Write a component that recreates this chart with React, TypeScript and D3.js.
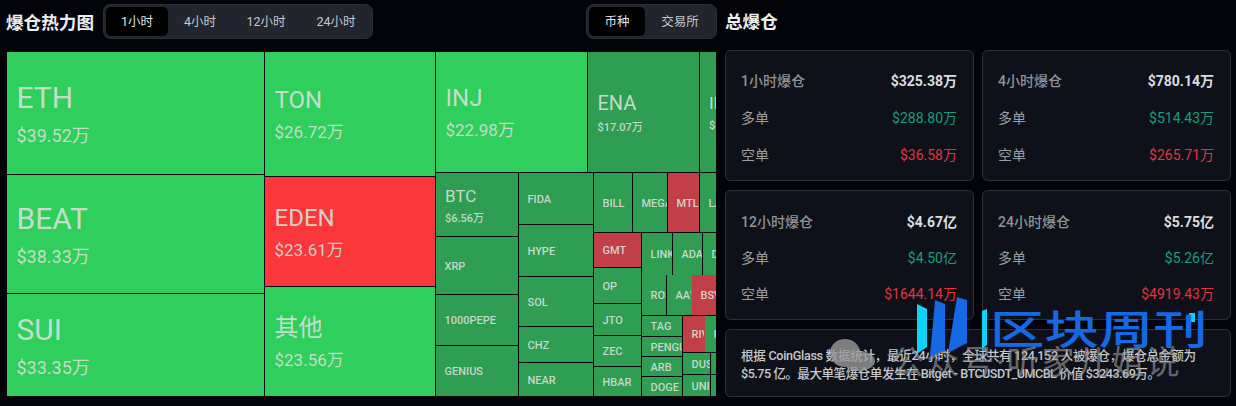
import React from "react";
import * as d3 from "d3";

type Cell = { name: string; value: number; short?: boolean };

// Treemap groups, values in 万 USD (hidden cells estimated from their visible area)
const majorsA: Cell[] = [
  { name: "ETH", value: 39.52 },
  { name: "BEAT", value: 38.33 },
  { name: "SUI", value: 33.35 },
];
const majorsB: Cell[] = [
  { name: "TON", value: 26.72 },
  { name: "EDEN", value: 23.61, short: true },
  { name: "其他", value: 23.56 },
];
const topRow: Cell[] = [
  { name: "INJ", value: 22.98 },
  { name: "ENA", value: 17.07 },
  { name: "IP", value: 13.6 },
];
const stackA: Cell[] = [
  { name: "BTC", value: 6.56 },
  { name: "XRP", value: 6.0 },
  { name: "1000PEPE", value: 5.3 },
  { name: "GENIUS", value: 5.3 },
];
const stackB: Cell[] = [
  { name: "FIDA", value: 4.85 },
  { name: "HYPE", value: 4.8 },
  { name: "SOL", value: 4.7 },
  { name: "CHZ", value: 3.4 },
  { name: "NEAR", value: 3.15 },
];
const rowBill: Cell[] = [
  { name: "BILL", value: 2.93 },
  { name: "MEGA", value: 2.7 },
  { name: "MTL", value: 2.4, short: true },
  { name: "LAB", value: 6.4 },
  { name: "ATOM", value: 0.35 },
];
const stackGmt: Cell[] = [
  { name: "GMT", value: 2.14, short: true },
  { name: "OP", value: 2.17 },
  { name: "JTO", value: 1.96 },
  { name: "ZEC", value: 1.88 },
  { name: "HBAR", value: 1.84 },
];
const rowLink: Cell[] = [
  { name: "LINK", value: 1.59 },
  { name: "ADA", value: 1.54 },
  { name: "DOT", value: 4.46 },
];
const rowRose: Cell[] = [
  { name: "ROSE", value: 1.28 },
  { name: "AAVE", value: 1.28 },
  { name: "BSV", value: 5.02, short: true },
];
const stackTag: Cell[] = [
  { name: "TAG", value: 1.08 },
  { name: "PENGU", value: 1.03 },
  { name: "ARB", value: 1.03 },
  { name: "DOGE", value: 1.03 },
];
const rowRiver: Cell[] = [
  { name: "RIVER", value: 0.99, short: true },
  { name: "FIL", value: 3.96 },
];
const stackDusk: Cell[] = [
  { name: "DUSK", value: 0.79 },
  { name: "UNI", value: 0.75 },
];
const stackHidden: Cell[] = [
  { name: "WIF", value: 2.2 },
  { name: "ENS", value: 2.14 },
];

// Cells that the reference draws without a dividing line
const noBottomGap = ["LINK", "ADA", "DOT"];
const noRightGap = ["AAVE", "RIVER"];

const timeTabs = ["1小时", "4小时", "12小时", "24小时"];
const scopeTabs = ["币种", "交易所"];
const cardTitles = ["1小时爆仓", "4小时爆仓", "12小时爆仓", "24小时爆仓"];
const cardTotals = ["$325.38万", "$780.14万", "$4.67亿", "$5.75亿"];
const cardLongs = ["$288.80万", "$514.43万", "$4.50亿", "$5.26亿"];
const cardShorts = ["$36.58万", "$265.71万", "$1644.14万", "$4919.43万"];
const note1 = "根据 CoinGlass 数据统计，最近24小时，全球共有 124,152 人被爆仓，爆仓总金额为";
const note2 = "$5.75 亿。最大单笔爆仓单发生在 Bitget - BTCUSDT_UMCBL 价值 $3243.69万。";

const group = (dir: string, children: any[]) => ({ dir, children });
const tree = group("h", [
  group("v", majorsA),
  group("v", majorsB),
  group("v", [
    group("h", topRow),
    group("h", [
      group("v", stackA),
      group("v", stackB),
      group("v", [
        group("h", rowBill),
        group("h", [
          group("v", stackGmt),
          group("v", [
            group("h", rowLink),
            group("h", rowRose),
            group("h", [
              group("v", stackTag),
              group("v", [
                group("h", rowRiver),
                group("h", [group("v", stackDusk), group("v", stackHidden)]),
              ]),
            ]),
          ]),
        ]),
      ]),
    ]),
  ]),
]);

const TM_X = 7;
const TM_Y = 52;
const TM_W = 783;
const TM_H = 345;
const CLIP_R = 716;

const root = d3
  .treemap<any>()
  .size([TM_W, TM_H])
  .round(true)
  .tile((node: any, x0, y0, x1, y1) =>
    (node.data.dir === "v" ? d3.treemapSlice : d3.treemapDice)(node, x0, y0, x1, y1)
  )(d3.hierarchy<any>(tree).sum((d: any) => d.value || 0));

const tierOf = d3
  .scaleThreshold<number, number>()
  .domain([6.5, 15, 22, 30])
  .range([0, 1, 2, 3, 4]);
const tiers = [
  { size: 11, weight: 500, base: 4, sub: 0, subBase: 0, pad: 8.5 },
  { size: 17, weight: 400, base: -3, sub: 11, subBase: 17, pad: 9 },
  { size: 20, weight: 400, base: -2, sub: 11, subBase: 19, pad: 9.5 },
  { size: 24, weight: 400, base: -6, sub: 17, subBase: 24, pad: 9.5 },
  { size: 30, weight: 400, base: -5, sub: 18, subBase: 29, pad: 9.5 },
];

const fillOf = (c: Cell) =>
  c.value >= 20 ? (c.short ? "#fa373b" : "#2fce5d") : c.short ? "#c23f47" : "#2f9e52";

const FONT = "Roboto, 'Noto Sans CJK SC', sans-serif";

function Tabs({ x, w, labels, centers, activeW }: any) {
  return (
    <g>
      <rect x={x + 0.5} y={4.5} width={w} height={34} rx={7} fill="#22252d" stroke="#2b2e36" />
      <rect x={x + 3} y={7} width={activeW} height={29} rx={5} fill="#000" />
      {labels.map((t: string, i: number) => (
        <text key={t} x={centers[i]} y={26} textAnchor="middle" fontSize={12.5} fill={i === 0 ? "#dfe4ee" : "#c3c8d2"}>
          {t}
        </text>
      ))}
    </g>
  );
}

function Card({ x, y, h, rows, i }: any) {
  const right = x + 232;
  const lx = x + 16;
  return (
    <g fontSize={14}>
      <rect x={x + 0.5} y={y + 0.5} width={248} height={h} rx={5} fill="#0e1119" stroke="#2e3138" />
      <text x={lx} y={y + rows[0] + 5} fill="#90939a" fontWeight={500}>{cardTitles[i]}</text>
      <text x={right} y={y + rows[0] + 5} textAnchor="end" fill="#dcdde0" fontWeight={700}>{cardTotals[i]}</text>
      <text x={lx} y={y + rows[1] + 5} fill="#9a9da2">多单</text>
      <text x={right} y={y + rows[1] + 5} textAnchor="end" fill="#1a9d80">{cardLongs[i]}</text>
      <text x={lx} y={y + rows[2] + 5} fill="#9a9da2">空单</text>
      <text x={right} y={y + rows[2] + 5} textAnchor="end" fill="#e5323f">{cardShorts[i]}</text>
    </g>
  );
}

export default function App() {
  const leaves = root.leaves();
  const rowsTop = [31, 68, 105];
  const rowsBottom = [32, 68, 104];
  return (
    <svg
      width={1236}
      height={406}
      style={{ position: "absolute", left: 0, top: 0, background: "#02040a", fontFamily: FONT }}
    >
      <defs>
        <clipPath id="tm">
          <rect x={TM_X} y={TM_Y} width={CLIP_R - TM_X} height={TM_H - 1} />
        </clipPath>
        {leaves.map((l: any, i: number) => (
          <clipPath id={`c${i}`} key={i}>
            <rect x={l.x0} y={l.y0} width={l.x1 - l.x0 - 1} height={l.y1 - l.y0} />
          </clipPath>
        ))}
      </defs>

      <text x={6} y={29} fontSize={17.6} fontWeight={700} fill="#eceef2">爆仓热力图</text>
      <Tabs x={103} w={269} labels={timeTabs} centers={[137, 200, 266, 336]} activeW={62} />
      <Tabs x={586} w={130} labels={scopeTabs} centers={[617, 680]} activeW={56} />
      <text x={725} y={28} fontSize={17.6} fontWeight={700} fill="#eceef2">总爆仓</text>

      <g clipPath="url(#tm)">
        <g transform={`translate(${TM_X},${TM_Y})`}>
          {leaves.map((l: any, i: number) => {
            const c: Cell = l.data;
            const t = tiers[tierOf(c.value)];
            const cy = (l.y0 + l.y1 - 1) / 2;
            const dx = noRightGap.includes(c.name) ? 0 : 1;
            const dy = noBottomGap.includes(c.name) ? 0 : 1;
            return (
              <g key={c.name}>
                <rect x={l.x0} y={l.y0} width={l.x1 - l.x0 - dx} height={l.y1 - l.y0 - dy} fill={fillOf(c)} />
                <g clipPath={`url(#c${i})`} fill="#d6dfda">
                  <text x={l.x0 + t.pad} y={cy + t.base} fontSize={t.size} fontWeight={t.weight} fillOpacity={0.92}>
                    {c.name}
                  </text>
                  {t.sub > 0 && (
                    <text x={l.x0 + t.pad} y={cy + t.subBase} fontSize={t.sub} fontWeight={t.sub < 14 ? 500 : 400} fillOpacity={0.9}>
                      {`$${c.value.toFixed(2)}万`}
                    </text>
                  )}
                </g>
              </g>
            );
          })}
        </g>
      </g>

      <Card x={725} y={50} h={130} rows={rowsTop} i={0} />
      <Card x={982} y={50} h={130} rows={rowsTop} i={1} />
      <Card x={725} y={190} h={129} rows={rowsBottom} i={2} />
      <Card x={982} y={190} h={129} rows={rowsBottom} i={3} />
      <rect x={725.5} y={329.5} width={505} height={67} rx={5} fill="#0e1119" stroke="#2e3138" />
      <text x={741} y={360} fontSize={12.6} fontWeight={500} fill="#c6c8cc" textLength={455} lengthAdjust="spacing">{note1}</text>
      <text x={741} y={378} fontSize={12.6} fontWeight={500} fill="#c6c8cc" textLength={419} lengthAdjust="spacing">{note2}</text>

      {/* watermark */}
      <g opacity={0.8} fill="#9a9a9a">
        <ellipse cx={845} cy={353} rx={15} ry={14} />
        <ellipse cx={859} cy={361} rx={16} ry={10} />
      </g>
      <text x={891} y={374} fontSize={33} letterSpacing={2} fill="#9a9a9a" fillOpacity={0.65}>公众号·听家儿姐说</text>
      <g fill="#0dd4f8">
        <polygon points="917,304 927,309 927,347 917,354" />
        <polygon points="982,311 987,309 987,345 982,349" />
        <rect x={1189} y={313} width={6} height={9} />
      </g>
      <g fill="#1668e3">
        <polygon points="935,300 945,304 945,350 930,357" />
        <polygon points="957,297 967,300 967,343 948,353" />
      </g>
      <text
        transform="translate(990,344) scale(1.36,1)"
        fontSize={40}
        fontWeight={500}
        fill="#1668e3"
      >
        区块周刊
      </text>
    </svg>
  );
}
